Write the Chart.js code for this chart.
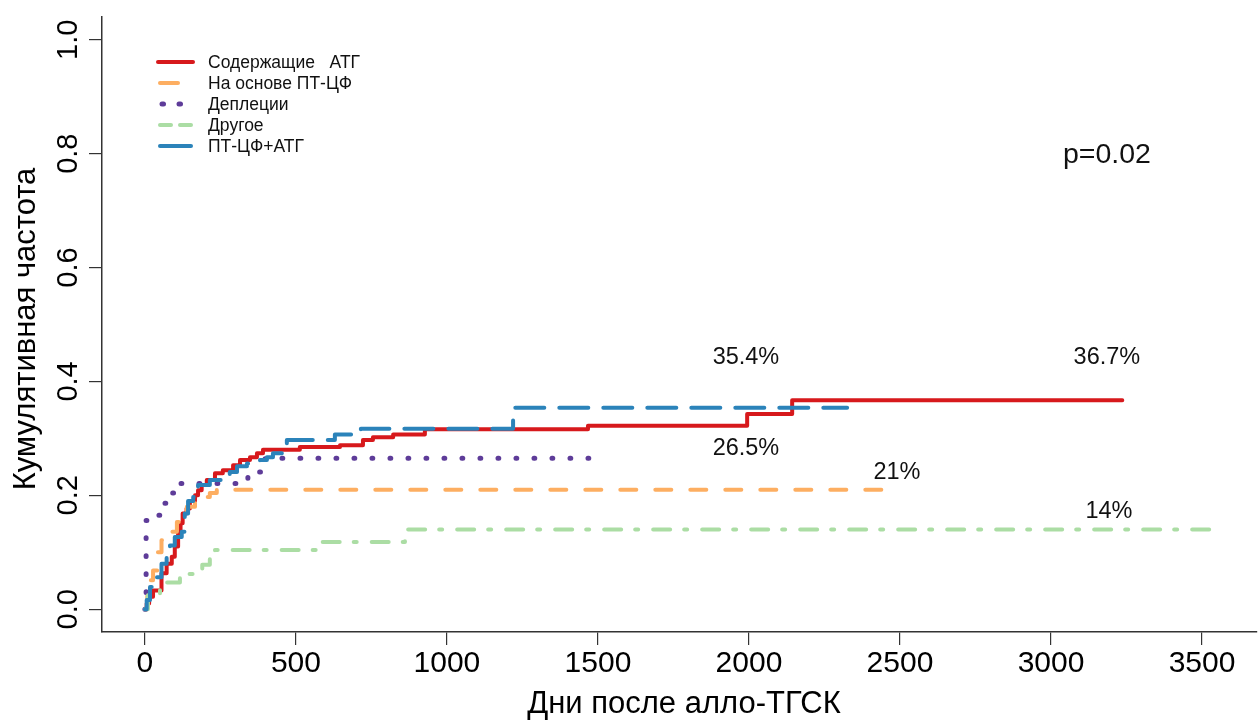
<!DOCTYPE html>
<html lang="ru">
<head>
<meta charset="utf-8">
<title>Кумулятивная частота</title>
<script src="https://cdn.jsdelivr.net/npm/chart.js@4.4.1/dist/chart.umd.min.js"></script>
<style>
  html, body { margin: 0; padding: 0; background: #ffffff; }
  #wrap { width: 1259px; height: 720px; }
</style>
</head>
<body>
<div id="wrap"><canvas id="cif" width="1259" height="720"></canvas></div>
<script>
// ---- data ----
const seriesNames = ['Содержащие   АТГ', 'На основе ПТ-ЦФ', 'Деплеции', 'Другое', 'ПТ-ЦФ+АТГ'];

const atgDays   = [0, 6, 14, 27, 55, 72, 89, 99, 110, 118, 125, 138, 149, 166, 176, 188, 205, 232, 258, 292, 315, 348, 371, 391, 513, 646, 722, 755, 822, 927, 1467, 1994, 2143, 3236];
const atgValues = [0, 0.010, 0.022, 0.033, 0.063, 0.080, 0.092, 0.110, 0.133, 0.151, 0.168, 0.177, 0.190, 0.200, 0.209, 0.218, 0.227, 0.239, 0.244, 0.253, 0.262, 0.267, 0.274, 0.280, 0.285, 0.288, 0.297, 0.302, 0.307, 0.316, 0.322, 0.343, 0.367, 0.367];

const ptcyDays   = [0, 8, 17, 27, 43, 55, 89, 106, 139, 166, 182, 215, 238, 2460];
const ptcyValues = [0, 0.030, 0.051, 0.068, 0.100, 0.121, 0.136, 0.153, 0.180, 0.188, 0.197, 0.204, 0.210, 0.210];

const deplDays   = [0, 4, 12, 55, 83, 109, 341, 391, 398, 1500];
const deplValues = [0, 0.156, 0.165, 0.186, 0.204, 0.221, 0.241, 0.258, 0.265, 0.265];

const otherDays   = [0, 10, 50, 116, 160, 190, 215, 232, 573, 861, 3537];
const otherValues = [0, 0.025, 0.047, 0.062, 0.068, 0.078, 0.090, 0.104, 0.118, 0.140, 0.140];

const comboDays   = [0, 6, 17, 39, 55, 72, 83, 99, 122, 132, 143, 160, 176, 215, 255, 281, 305, 338, 381, 404, 424, 454, 470, 629, 715, 1219, 2325];
const comboValues = [0, 0.016, 0.039, 0.056, 0.080, 0.092, 0.112, 0.127, 0.136, 0.168, 0.190, 0.197, 0.218, 0.227, 0.232, 0.241, 0.251, 0.256, 0.262, 0.267, 0.274, 0.276, 0.297, 0.307, 0.317, 0.354, 0.354];

const xTickValues = [0, 500, 1000, 1500, 2000, 2500, 3000, 3500];
const yTickValues = [0.0, 0.2, 0.4, 0.6, 0.8, 1.0];

const endLabels = ['36.7%', '21%', '26.5%', '14%', '35.4%'];
const pValueText = 'p=0.02';

const xTitle = 'Дни после алло-ТГСК';
const yTitle = 'Кумулятивная частота';

// ---- styles ----
const FONT = '"Liberation Sans", Arial, Helvetica, sans-serif';
const colors = ['#d7191c', '#fdae61', '#5e3c99', '#abdda4', '#2b83ba'];
const dashes = [[], [16, 19], [0.8, 17.2], [17, 14, 3, 15], [29, 15]];
const widths = [4, 4, 5, 4, 4];
const drawOrder = [4, 3, 2, 1, 0];

const toPoints = (d, v) => d.map((t, i) => ({ x: t, y: v[i] }));
const allDays = [atgDays, ptcyDays, deplDays, otherDays, comboDays];
const allValues = [atgValues, ptcyValues, deplValues, otherValues, comboValues];

const datasets = seriesNames.map((name, i) => ({
  label: name,
  data: toPoints(allDays[i], allValues[i]),
  borderColor: colors[i],
  backgroundColor: colors[i],
  borderWidth: widths[i],
  borderDash: dashes[i],
  borderCapStyle: 'round',
  borderJoinStyle: 'round',
  stepped: 'before',
  pointRadius: 0,
  pointHoverRadius: 0,
  fill: false,
  order: drawOrder[i]
}));

// end-of-curve labels, placed in data units (day, fraction) at their text baseline
const endLabelAnchors = [
  { x: 3185, y: 0.431 },
  { x: 2490, y: 0.229 },
  { x: 1990, y: 0.271 },
  { x: 3192, y: 0.160 },
  { x: 1990, y: 0.431 }
];
const pValueAnchor = { x: 3185, y: 0.784 };

// legend line pieces (pixel offsets on the legend sample)
const legendPieces = [
  [[158, 193]],
  [[160, 178]],
  [[162, 163.5], [179, 180.5]],
  [[160, 171], [180, 191]],
  [[160, 191]]
];

const annotations = {
  id: 'annotations',
  afterDraw(chart) {
    const { ctx, scales: { x, y } } = chart;
    ctx.save();
    ctx.fillStyle = '#000';

    // x tick labels
    ctx.font = '30px ' + FONT;
    ctx.textAlign = 'center';
    ctx.textBaseline = 'alphabetic';
    x.ticks.forEach(t => ctx.fillText(String(t.value), x.getPixelForValue(t.value), 672));

    // y tick labels, rotated
    ctx.font = '29px ' + FONT;
    y.ticks.forEach(t => {
      ctx.save();
      ctx.translate(77, y.getPixelForValue(t.value));
      ctx.rotate(-Math.PI / 2);
      ctx.fillText(t.value.toFixed(1), 0, 0);
      ctx.restore();
    });

    // axis titles
    ctx.font = '31px ' + FONT;
    ctx.fillText(xTitle, 684, 713);
    ctx.save();
    ctx.translate(35, 329);
    ctx.rotate(-Math.PI / 2);
    ctx.fillText(yTitle, 0, 0);
    ctx.restore();

    // curve end labels
    ctx.fillStyle = '#111';
    ctx.font = '23.5px ' + FONT;
    endLabels.forEach((txt, i) => {
      const a = endLabelAnchors[i];
      ctx.fillText(txt, x.getPixelForValue(a.x), y.getPixelForValue(a.y));
    });
    ctx.font = '28.5px ' + FONT;
    ctx.fillText(pValueText, x.getPixelForValue(pValueAnchor.x), y.getPixelForValue(pValueAnchor.y));

    // legend
    const rowY = [62, 83, 104, 125, 146];
    ctx.lineCap = 'round';
    seriesNames.forEach((name, i) => {
      ctx.strokeStyle = colors[i];
      ctx.lineWidth = widths[i];
      legendPieces[i].forEach(([a, b]) => {
        ctx.beginPath();
        ctx.moveTo(a, rowY[i]);
        ctx.lineTo(b, rowY[i]);
        ctx.stroke();
      });
      ctx.fillStyle = '#111';
      ctx.font = '17.5px ' + FONT;
      ctx.textAlign = 'left';
      ctx.textBaseline = 'middle';
      ctx.fillText(name, 208, rowY[i] + 1.5);
    });
    ctx.restore();
  }
};

new Chart(document.getElementById('cif'), {
  type: 'line',
  data: { datasets },
  options: {
    responsive: false,
    animation: false,
    devicePixelRatio: 1,
    layout: { padding: { left: 0, top: 17, right: 2, bottom: 0 } },
    plugins: { legend: { display: false }, tooltip: { enabled: false } },
    events: [],
    scales: {
      x: {
        type: 'linear',
        min: -142,
        max: 3682,
        afterBuildTicks: s => { s.ticks = xTickValues.map(v => ({ value: v })); },
        afterFit: s => { s.height = 88; },
        ticks: { display: false },
        grid: { drawOnChartArea: false, drawTicks: true, tickLength: 13, color: '#333', lineWidth: 1.2 },
        border: { display: true, color: '#333', width: 1.5 }
      },
      y: {
        type: 'linear',
        min: -0.04,
        max: 1.04,
        afterBuildTicks: s => { s.ticks = yTickValues.map(v => ({ value: v })); },
        afterFit: s => { s.width = 102; },
        ticks: { display: false },
        grid: { drawOnChartArea: false, drawTicks: true, tickLength: 13, color: '#333', lineWidth: 1.2 },
        border: { display: true, color: '#333', width: 1.5 }
      }
    }
  },
  plugins: [annotations]
});
</script>
</body>
</html>
